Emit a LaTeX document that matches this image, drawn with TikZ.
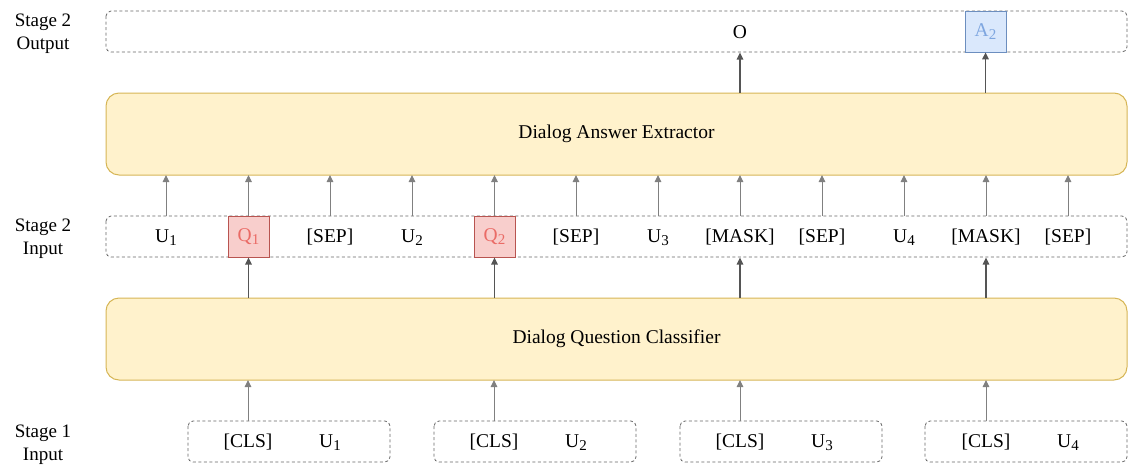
\documentclass[tikz,border=0pt]{standalone}
\usepackage{fontspec}
\setmainfont{Liberation Serif}
\usetikzlibrary{arrows.meta}
\definecolor{yfill}{HTML}{FFF2CC}
\definecolor{ydraw}{HTML}{D6B656}
\definecolor{rfill}{HTML}{F8CECC}
\definecolor{rdraw}{HTML}{B85450}
\definecolor{rtext}{HTML}{EA6B66}
\definecolor{bfill}{HTML}{DAE8FC}
\definecolor{bdraw}{HTML}{6C8EBF}
\definecolor{btext}{HTML}{7EA6E0}
\definecolor{darr}{HTML}{555555}
\definecolor{larr}{HTML}{808080}
\newcommand{\sbs}[1]{\raisebox{-0.4ex}{\fontsize{15}{15}\selectfont #1}}
\tikzset{
  dbox/.style={draw=black!60, dash pattern=on 3pt off 2.5pt, rounded corners=5pt, line width=0.8pt},
  ybox/.style={draw=ydraw, fill=yfill, rounded corners=13pt, line width=1pt},
  tok/.style={inner sep=0pt, font=\fontsize{19.5}{22}\selectfont},
  lbl/.style={align=center, inner sep=0pt, font=\fontsize{19}{23}\selectfont},
  qbox/.style={draw=rdraw, fill=rfill, text=rtext, minimum width=41pt, minimum height=41pt, inner sep=0pt, line width=0.8pt, font=\fontsize{19.5}{22}\selectfont},
  abox/.style={draw=bdraw, fill=bfill, text=btext, minimum width=41pt, minimum height=41pt, inner sep=0pt, line width=0.8pt, font=\fontsize{19.5}{22}\selectfont},
  darrow/.style={draw=darr, line width=1.5pt, -{Triangle[length=7pt,width=6.5pt]}},
  larrow/.style={draw=larr, line width=1pt, -{Triangle[length=7pt,width=6.5pt]}},
}
\begin{document}
\begin{tikzpicture}[x=1pt,y=-1pt]
\useasboundingbox (0,0) rectangle (1128,464);
% labels
\node[lbl] (l1) at (43,34) {Stage 2\\Output};
\node[lbl] (l2) at (43,239) {Stage 2\\Input};
\node[lbl] (l3) at (43,444.5) {Stage 1\\Input};
% output row
\draw[dbox] (106,11) rectangle (1127,52);
\node[tok] (O) at (740,32.5) {O};
\node[abox] (A2) at (985.5,31.5) {\raisebox{-1pt}{A\sbs{2}}};
% extractor
\node[ybox, minimum width=1021pt, minimum height=82pt, font=\fontsize{19.5}{22}\selectfont] (ext) at (616.5,134) {\raisebox{-1.5pt}{Dialog Answer Extractor}};
% stage 2 input
\draw[dbox] (106,216) rectangle (1127,257);
\node[tok] (t1) at (166,237.5) {U\sbs{1}};
\node[qbox] (t2) at (248.5,236.5) {\raisebox{-1pt}{Q\sbs{1}}};
\node[tok] (t3) at (330,237.5) {[SEP]};
\node[tok] (t4) at (412,237.5) {U\sbs{2}};
\node[qbox] (t5) at (494.5,236.5) {\raisebox{-1pt}{Q\sbs{2}}};
\node[tok] (t6) at (576,237.5) {[SEP]};
\node[tok] (t7) at (658,237.5) {U\sbs{3}};
\node[tok] (t8) at (740,237.5) {[MASK]};
\node[tok] (t9) at (822,237.5) {[SEP]};
\node[tok] (t10) at (904,237.5) {U\sbs{4}};
\node[tok] (t11) at (986,237.5) {[MASK]};
\node[tok] (t12) at (1068,237.5) {[SEP]};
% classifier
\node[ybox, minimum width=1021pt, minimum height=82pt, font=\fontsize{19.5}{22}\selectfont] (cls) at (616.5,339) {\raisebox{-1.5pt}{Dialog Question Classifier}};
% stage 1 input boxes
\foreach \i/\x in {1/188,2/434,3/680,4/925}{
  \draw[dbox] (\x,421) rectangle ++(202,41);
}
\node[tok] (c1) at (248,442.5) {[CLS]};
\node[tok] (u1) at (330,442.5) {U\sbs{1}};
\node[tok] (c2) at (494,442.5) {[CLS]};
\node[tok] (u2) at (576,442.5) {U\sbs{2}};
\node[tok] (c3) at (740,442.5) {[CLS]};
\node[tok] (u3) at (822,442.5) {U\sbs{3}};
\node[tok] (c4) at (986,442.5) {[CLS]};
\node[tok] (u4) at (1068,442.5) {U\sbs{4}};
% arrows stage1 -> classifier
\foreach \x in {248,494,740,986}{
  \draw[larrow] (\x,421) -- (\x,380);
}
% arrows classifier -> stage2 input
\foreach \x in {248.5,494.5,740,986}{
  \draw[darrow] (\x,298) -- (\x,257.5);
}
% arrows stage2 input -> extractor
\foreach \x in {166,248.5,330,412,494.5,576,658,740,822,904,986,1068}{
  \draw[larrow] (\x,216) -- (\x,175);
}
% extractor -> output
\draw[darrow] (740,93) -- (740,52.5);
\draw[darrow] (985.5,93) -- (A2.south);
\end{tikzpicture}
\end{document}
